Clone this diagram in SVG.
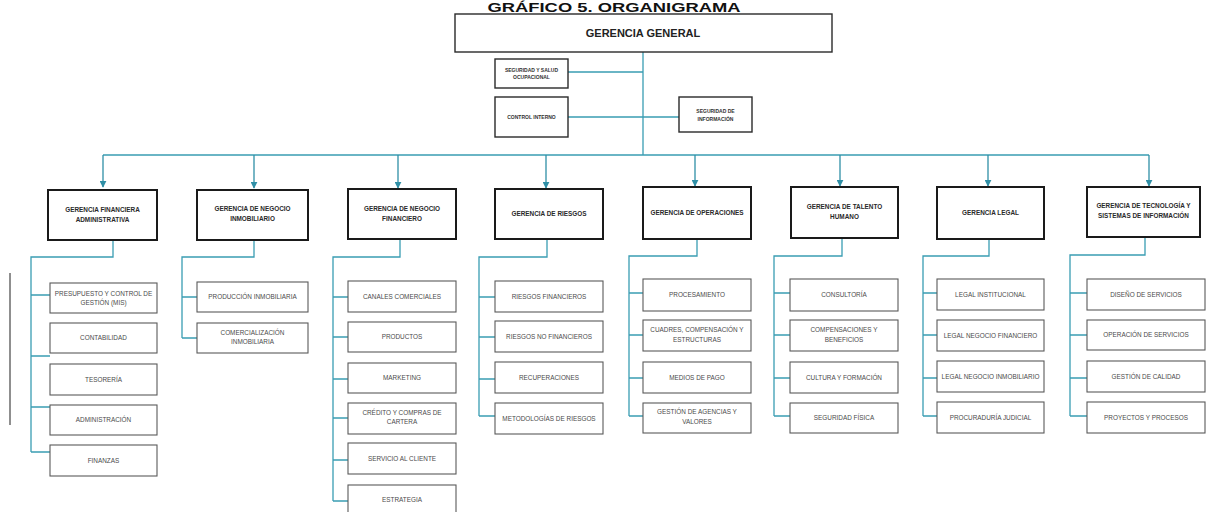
<svg xmlns="http://www.w3.org/2000/svg" width="1208" height="512" viewBox="0 0 1208 512">
<defs>
<marker id="ah" viewBox="0 0 10 10" refX="9" refY="5" markerWidth="7" markerHeight="7" orient="auto" markerUnits="userSpaceOnUse">
<path d="M0,0 L10,5 L0,10 z" fill="#2f8fa6"/>
</marker>
<style>
.bx{fill:#fff;stroke:#2a2a2a;stroke-width:1.4}
.mb{fill:#fff;stroke:#1a1a1a;stroke-width:2}
.sb{fill:#fff;stroke:#5a5a5a;stroke-width:1.1}
.c{fill:none;stroke:#3a9db3;stroke-width:1.3}
.a{fill:none;stroke:#2f8fa6;stroke-width:1.3}
.mt{font-family:"Liberation Sans",Arial,sans-serif;font-size:6.4px;font-weight:bold;fill:#2a2a2a;text-anchor:middle}
.st{font-family:"Liberation Sans",Arial,sans-serif;font-size:6.4px;fill:#4a4a4a;text-anchor:middle}
.tt{font-family:"Liberation Sans",Arial,sans-serif;font-size:5px;font-weight:bold;fill:#333;text-anchor:middle}
</style>
</defs>
<rect width="1208" height="512" fill="#fff"/>
<text x="614" y="12" font-family="'Liberation Sans',Arial,sans-serif" font-size="12" font-weight="bold" fill="#111" text-anchor="middle" textLength="253" lengthAdjust="spacingAndGlyphs">GRÁFICO 5. ORGANIGRAMA</text>
<line x1="10" y1="273" x2="10" y2="425" stroke="#6a6a6a" stroke-width="1.5"/>

<g id="connectors">
<path class="c" d="M643,52 V155 M103,155 H1149"/>
<path class="c" d="M568,72 H643 M568,117 H679"/>
<path class="a" d="M103,155 V187" marker-end="url(#ah)"/>
<path class="a" d="M254,155 V188" marker-end="url(#ah)"/>
<path class="a" d="M398,155 V188" marker-end="url(#ah)"/>
<path class="a" d="M546,155 V188" marker-end="url(#ah)"/>
<path class="a" d="M695,155 V186" marker-end="url(#ah)"/>
<path class="a" d="M840,155 V186" marker-end="url(#ah)"/>
<path class="a" d="M988,155 V186" marker-end="url(#ah)"/>
<path class="a" d="M1149,155 V186" marker-end="url(#ah)"/>
<path class="c" d="M113,240 V257 H31 V452 M31,295 H50 M31,356 H50 M31,407 H50 M31,452 H50"/>
<path class="c" d="M254,240 V257 H182 V338 M182,297 H197 M182,338 H197"/>
<path class="c" d="M400,239 V257 H333 V501 M333,297 H348 M333,337 H348 M333,379 H348 M333,418 H348 M333,460 H348 M333,501 H348"/>
<path class="c" d="M547,239 V257 H479 V416 M479,297 H495 M479,337 H495 M479,379 H495 M479,416 H495"/>
<path class="c" d="M697,239 V256 H629 V416 M629,293 H643 M629,335 H643 M629,378 H643 M629,416 H643"/>
<path class="c" d="M842,238 V256 H774 V416 M774,293 H790 M774,335 H790 M774,378 H790 M774,416 H790"/>
<path class="c" d="M989,239 V256 H923 V416 M923,293 H937 M923,335 H937 M923,378 H937 M923,416 H937"/>
<path class="c" d="M1145,237 V255 H1070 V416 M1070,293 H1087 M1070,335 H1087 M1070,378 H1087 M1070,416 H1087"/>
</g>

<g id="gerencia-general"><rect class="bx" x="455" y="14" width="377" height="38"/><text x="643" y="37" font-family="'Liberation Sans',Arial,sans-serif" font-size="11" font-weight="bold" fill="#222" text-anchor="middle">GERENCIA GENERAL</text></g>
<g id="seguridad-salud"><rect class="bx" x="495" y="59" width="73" height="29"/><text class="tt" x="531.5" y="72">SEGURIDAD Y SALUD</text><text class="tt" x="531.5" y="79">OCUPACIONAL</text></g>
<g id="control-interno"><rect class="bx" x="495" y="97" width="73" height="40"/><text class="tt" x="531.5" y="119">CONTROL INTERNO</text></g>
<g id="seguridad-informacion"><rect class="bx" x="679" y="97" width="73" height="35"/><text class="tt" x="715.5" y="113">SEGURIDAD DE</text><text class="tt" x="715.5" y="121">INFORMACIÓN</text></g>

<g id="g-financiera"><rect class="mb" x="48" y="190" width="109" height="50"/><text class="mt" x="102.5" y="212">GERENCIA FINANCIERA</text><text class="mt" x="102.5" y="222">ADMINISTRATIVA</text></g>
<g id="g-inmobiliario"><rect class="mb" x="197" y="190" width="111" height="50"/><text class="mt" x="252.5" y="211">GERENCIA DE NEGOCIO</text><text class="mt" x="252.5" y="221">INMOBILIARIO</text></g>
<g id="g-neg-financiero"><rect class="mb" x="348" y="189" width="108" height="50"/><text class="mt" x="402" y="211">GERENCIA DE NEGOCIO</text><text class="mt" x="402" y="221">FINANCIERO</text></g>
<g id="g-riesgos"><rect class="mb" x="495" y="189" width="108" height="50"/><text class="mt" x="549" y="216">GERENCIA DE RIESGOS</text></g>
<g id="g-operaciones"><rect class="mb" x="643" y="187" width="108" height="52"/><text class="mt" x="697" y="215">GERENCIA DE OPERACIONES</text></g>
<g id="g-talento"><rect class="mb" x="791" y="187" width="107" height="51"/><text class="mt" x="844.5" y="209">GERENCIA DE TALENTO</text><text class="mt" x="844.5" y="219">HUMANO</text></g>
<g id="g-legal"><rect class="mb" x="937" y="187" width="107" height="52"/><text class="mt" x="990.5" y="215">GERENCIA LEGAL</text></g>
<g id="g-tecnologia"><rect class="mb" x="1087" y="187" width="113" height="50"/><text class="mt" x="1143.5" y="208">GERENCIA DE TECNOLOGÍA Y</text><text class="mt" x="1143.5" y="218">SISTEMAS DE INFORMACIÓN</text></g>

<g id="presupuesto"><rect class="sb" x="50" y="283" width="107" height="30"/><text class="st" x="103.5" y="296">PRESUPUESTO Y CONTROL DE</text><text class="st" x="103.5" y="305">GESTIÓN (MIS)</text></g>
<g id="contabilidad"><rect class="sb" x="50" y="323" width="107" height="30"/><text class="st" x="103.5" y="340">CONTABILIDAD</text></g>
<g id="tesoreria"><rect class="sb" x="50" y="364" width="107" height="31"/><text class="st" x="103.5" y="382">TESORERÍA</text></g>
<g id="administracion"><rect class="sb" x="50" y="405" width="107" height="30"/><text class="st" x="103.5" y="422">ADMINISTRACIÓN</text></g>
<g id="finanzas"><rect class="sb" x="50" y="445" width="107" height="31"/><text class="st" x="103.5" y="463">FINANZAS</text></g>

<g id="produccion"><rect class="sb" x="197" y="282" width="111" height="30"/><text class="st" x="252.5" y="299">PRODUCCIÓN  INMOBILIARIA</text></g>
<g id="comercializacion"><rect class="sb" x="197" y="323" width="111" height="30"/><text class="st" x="252.5" y="335">COMERCIALIZACIÓN</text><text class="st" x="252.5" y="344">INMOBILIARIA</text></g>

<g id="canales"><rect class="sb" x="348" y="281" width="108" height="31"/><text class="st" x="402" y="299">CANALES COMERCIALES</text></g>
<g id="productos"><rect class="sb" x="348" y="322" width="108" height="30"/><text class="st" x="402" y="339">PRODUCTOS</text></g>
<g id="marketing"><rect class="sb" x="348" y="363" width="108" height="30"/><text class="st" x="402" y="380">MARKETING</text></g>
<g id="credito"><rect class="sb" x="348" y="403" width="108" height="31"/><text class="st" x="402" y="415">CRÉDITO Y COMPRAS DE</text><text class="st" x="402" y="424">CARTERA</text></g>
<g id="servicio-cliente"><rect class="sb" x="348" y="443" width="108" height="31"/><text class="st" x="402" y="461">SERVICIO AL CLIENTE</text></g>
<g id="estrategia"><rect class="sb" x="348" y="485" width="108" height="31"/><text class="st" x="402" y="502">ESTRATEGIA</text></g>

<g id="riesgos-fin"><rect class="sb" x="495" y="281" width="108" height="31"/><text class="st" x="549" y="299">RIESGOS FINANCIEROS</text></g>
<g id="riesgos-nofin"><rect class="sb" x="495" y="321" width="108" height="31"/><text class="st" x="549" y="339">RIESGOS NO FINANCIEROS</text></g>
<g id="recuperaciones"><rect class="sb" x="495" y="362" width="108" height="31"/><text class="st" x="549" y="380">RECUPERACIONES</text></g>
<g id="metodologias"><rect class="sb" x="495" y="403" width="108" height="31"/><text class="st" x="549" y="421">METODOLOGÍAS DE RIESGOS</text></g>

<g id="procesamiento"><rect class="sb" x="643" y="279" width="108" height="32"/><text class="st" x="697" y="297">PROCESAMIENTO</text></g>
<g id="cuadres"><rect class="sb" x="643" y="320" width="108" height="31"/><text class="st" x="697" y="332">CUADRES, COMPENSACIÓN Y</text><text class="st" x="697" y="342">ESTRUCTURAS</text></g>
<g id="medios-pago"><rect class="sb" x="643" y="362" width="108" height="31"/><text class="st" x="697" y="380">MEDIOS DE PAGO</text></g>
<g id="agencias"><rect class="sb" x="643" y="403" width="108" height="30"/><text class="st" x="697" y="414">GESTIÓN DE AGENCIAS Y</text><text class="st" x="697" y="424">VALORES</text></g>

<g id="consultoria"><rect class="sb" x="790" y="279" width="108" height="32"/><text class="st" x="844" y="297">CONSULTORÍA</text></g>
<g id="compensaciones"><rect class="sb" x="790" y="320" width="108" height="31"/><text class="st" x="844" y="332">COMPENSACIONES Y</text><text class="st" x="844" y="342">BENEFICIOS</text></g>
<g id="cultura"><rect class="sb" x="790" y="362" width="108" height="31"/><text class="st" x="844" y="380">CULTURA Y FORMACIÓN</text></g>
<g id="seguridad-fisica"><rect class="sb" x="790" y="403" width="108" height="30"/><text class="st" x="844" y="420">SEGURIDAD FÍSICA</text></g>

<g id="legal-inst"><rect class="sb" x="937" y="279" width="107" height="31"/><text class="st" x="990.5" y="297">LEGAL INSTITUCIONAL</text></g>
<g id="legal-nf"><rect class="sb" x="937" y="320" width="107" height="31"/><text class="st" x="990.5" y="338">LEGAL NEGOCIO FINANCIERO</text></g>
<g id="legal-ni"><rect class="sb" x="937" y="361" width="107" height="31"/><text class="st" x="990.5" y="379">LEGAL NEGOCIO INMOBILIARIO</text></g>
<g id="procuraduria"><rect class="sb" x="937" y="402" width="107" height="31"/><text class="st" x="990.5" y="420">PROCURADURÍA JUDICIAL</text></g>

<g id="diseno"><rect class="sb" x="1087" y="279" width="118" height="31"/><text class="st" x="1146" y="297">DISEÑO DE SERVICIOS</text></g>
<g id="operacion"><rect class="sb" x="1087" y="320" width="118" height="30"/><text class="st" x="1146" y="337">OPERACIÓN DE SERVICIOS</text></g>
<g id="calidad"><rect class="sb" x="1087" y="361" width="118" height="31"/><text class="st" x="1146" y="379">GESTIÓN DE CALIDAD</text></g>
<g id="proyectos"><rect class="sb" x="1087" y="402" width="118" height="31"/><text class="st" x="1146" y="420">PROYECTOS Y PROCESOS</text></g>
</svg>
